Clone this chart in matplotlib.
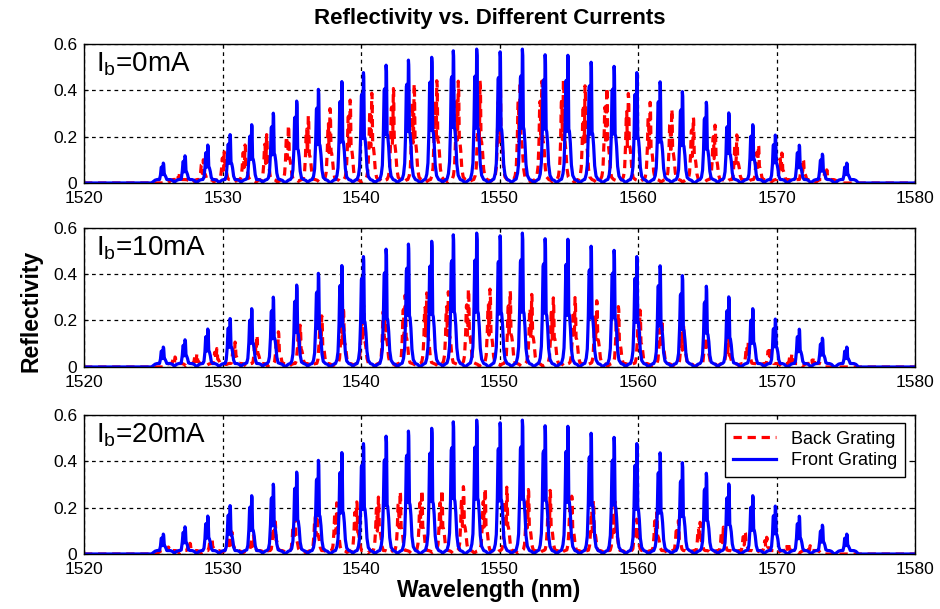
import numpy as np
import matplotlib
matplotlib.use("Agg")
import matplotlib.pyplot as plt

plt.rcParams["font.family"] = ["Liberation Sans", "DejaVu Sans"]

# front grating peaks (same in every panel)
front_nm = [1525.72, 1527.29, 1528.93, 1530.54, 1532.10, 1533.66, 1535.35, 1536.92,
            1538.61, 1540.17, 1541.81, 1543.42, 1545.10, 1546.66, 1548.35, 1550.04,
            1551.65, 1553.29, 1554.93, 1556.61, 1558.27, 1559.91, 1561.59, 1563.20,
            1564.93, 1566.55, 1568.28, 1569.91, 1571.64, 1573.31, 1575.07]
front_r = [0.086, 0.117, 0.164, 0.210, 0.253, 0.303, 0.354, 0.403, 0.440, 0.479,
           0.507, 0.531, 0.543, 0.571, 0.576, 0.569, 0.576, 0.554, 0.554, 0.524,
           0.504, 0.479, 0.439, 0.393, 0.349, 0.303, 0.253, 0.207, 0.164, 0.124, 0.086]

# back grating peaks, one list per bias current
back_nm_0 = [1526.88, 1528.61, 1530.12, 1531.62, 1533.18, 1534.75, 1536.19, 1537.76,
             1539.21, 1540.77, 1542.33, 1543.83, 1545.47, 1547.02, 1548.59, 1550.04,
             1551.48, 1553.05, 1554.61, 1556.17, 1557.74, 1559.30, 1560.87, 1562.43,
             1563.99, 1565.56, 1567.13, 1568.69, 1570.38, 1571.93, 1573.62]
back_r_0 = [0.040, 0.100, 0.135, 0.165, 0.210, 0.250, 0.290, 0.320, 0.360, 0.390,
            0.410, 0.430, 0.440, 0.440, 0.440, 0.440, 0.440, 0.440, 0.445, 0.420,
            0.410, 0.385, 0.350, 0.320, 0.285, 0.250, 0.207, 0.164, 0.130, 0.100, 0.057]

back_nm_10 = [1526.57, 1528.14, 1529.58, 1530.90, 1532.47, 1534.03, 1535.60, 1537.16,
              1538.72, 1540.17, 1541.73, 1543.18, 1544.74, 1546.30, 1547.75, 1549.31,
              1550.76, 1552.32, 1553.88, 1555.45, 1557.02, 1558.58, 1560.14, 1561.71,
              1563.27, 1564.96, 1566.52, 1567.96, 1569.53, 1571.10, 1572.66]
back_r_10 = [0.043, 0.058, 0.080, 0.108, 0.137, 0.152, 0.180, 0.220, 0.250, 0.270,
             0.300, 0.310, 0.320, 0.325, 0.335, 0.335, 0.330, 0.315, 0.300, 0.300,
             0.285, 0.260, 0.245, 0.205, 0.180, 0.160, 0.120, 0.110, 0.087, 0.058, 0.043]

back_nm_20 = [1526.09, 1527.65, 1529.22, 1530.66, 1532.22, 1533.79, 1535.23, 1536.80,
              1538.24, 1539.69, 1541.25, 1542.82, 1544.38, 1545.83, 1547.39, 1548.95,
              1550.52, 1552.08, 1553.65, 1555.21, 1556.77, 1558.34, 1559.90, 1561.35,
              1562.91, 1564.48, 1566.16, 1567.73, 1569.29, 1570.85, 1572.42]
back_r_20 = [0.030, 0.046, 0.068, 0.096, 0.080, 0.140, 0.155, 0.197, 0.220, 0.226,
             0.247, 0.270, 0.276, 0.276, 0.290, 0.283, 0.290, 0.280, 0.275, 0.250,
             0.230, 0.225, 0.150, 0.180, 0.145, 0.137, 0.116, 0.094, 0.072, 0.050, 0.036]

currents = ["0mA", "10mA", "20mA"]
back_sets = [(back_nm_0, back_r_0), (back_nm_10, back_r_10), (back_nm_20, back_r_20)]

# shape of one reflection peak: offset (nm), fraction of peak height, floor
prof_dx = [-0.85, -0.60, -0.45, -0.35, -0.27, -0.20, -0.15, -0.11, -0.07, -0.03,
           0.00, 0.03, 0.07, 0.12, 0.18, 0.25, 0.35, 0.50, 0.65, 0.85]
prof_rel = [0.0, 0.01, 0.03, 0.07, 0.15, 0.40, 0.78, 0.80, 0.40, 0.55,
            1.00, 0.95, 0.42, 0.40, 0.32, 0.15, 0.06, 0.02, 0.01, 0.0]
prof_floor = [0.0, 0.012, 0.015, 0.015, 0.015, 0.015, 0.015, 0.015, 0.015, 0.015,
              0.015, 0.015, 0.015, 0.015, 0.015, 0.015, 0.015, 0.015, 0.012, 0.0]

wl = np.linspace(1520, 1580, 8001)


def spectrum(centers, heights):
    out = np.zeros_like(wl)
    dx = np.array(prof_dx)
    for c, h in zip(centers, heights):
        shape = np.maximum(np.array(prof_rel) * h, np.array(prof_floor))
        out = np.maximum(out, np.interp(wl - c, dx, shape, left=0, right=0))
    return out


fig = plt.figure(figsize=(9.4, 6.09), dpi=100)
bottoms = [0.6995, 0.3974, 0.0903]
front = spectrum(front_nm, front_r)

for i, (cur, (bnm, br)) in enumerate(zip(currents, back_sets)):
    ax = fig.add_axes([0.0894, bottoms[i], 0.884, 0.2290])
    ax.set_axisbelow(True)
    lb, = ax.plot(wl, spectrum(bnm, br), color="red", lw=2.3, dashes=(2.6, 1.8),
                  label="Back Grating")
    lf, = ax.plot(wl, front, color="blue", lw=2.3, label="Front Grating")
    ax.set_xlim(1520, 1580)
    ax.set_ylim(0, 0.6)
    ax.set_xticks(np.arange(1520, 1581, 10))
    ax.set_yticks([0, 0.2, 0.4, 0.6])
    ax.set_yticklabels(["0", "0.2", "0.4", "0.6"])
    ax.grid(True, color="black", linestyle=(0, (3, 3)), linewidth=0.9)
    ax.tick_params(direction="in", length=3, labelsize=12.5, top=True, right=True)
    ax.tick_params(axis="x", pad=6)
    ax.tick_params(axis="y", pad=5)
    for s in ax.spines.values():
        s.set_linewidth(1.0)
    ax.text(0.014, 0.95, r"I$_\mathregular{b}$=" + cur, transform=ax.transAxes,
            fontsize=20, va="top", ha="left")
    if i == 2:
        ax.legend(handles=[lb, lf], loc="upper right", bbox_to_anchor=(0.988, 0.942),
                  borderaxespad=0, fancybox=False, edgecolor="black", framealpha=1,
                  fontsize=13, handlelength=2.4, borderpad=0.45, labelspacing=0.25)

fig.text(0.521, 0.970, "Reflectivity vs. Different Currents", ha="center", va="center",
         fontsize=16, fontweight="bold")
fig.text(0.033, 0.49, "Reflectivity", rotation=90, ha="center", va="center",
         fontsize=16.5, fontweight="bold")
fig.text(0.520, 0.030, "Wavelength (nm)", ha="center", va="center",
         fontsize=16.5, fontweight="bold")

fig.savefig("out.png", dpi=100)
